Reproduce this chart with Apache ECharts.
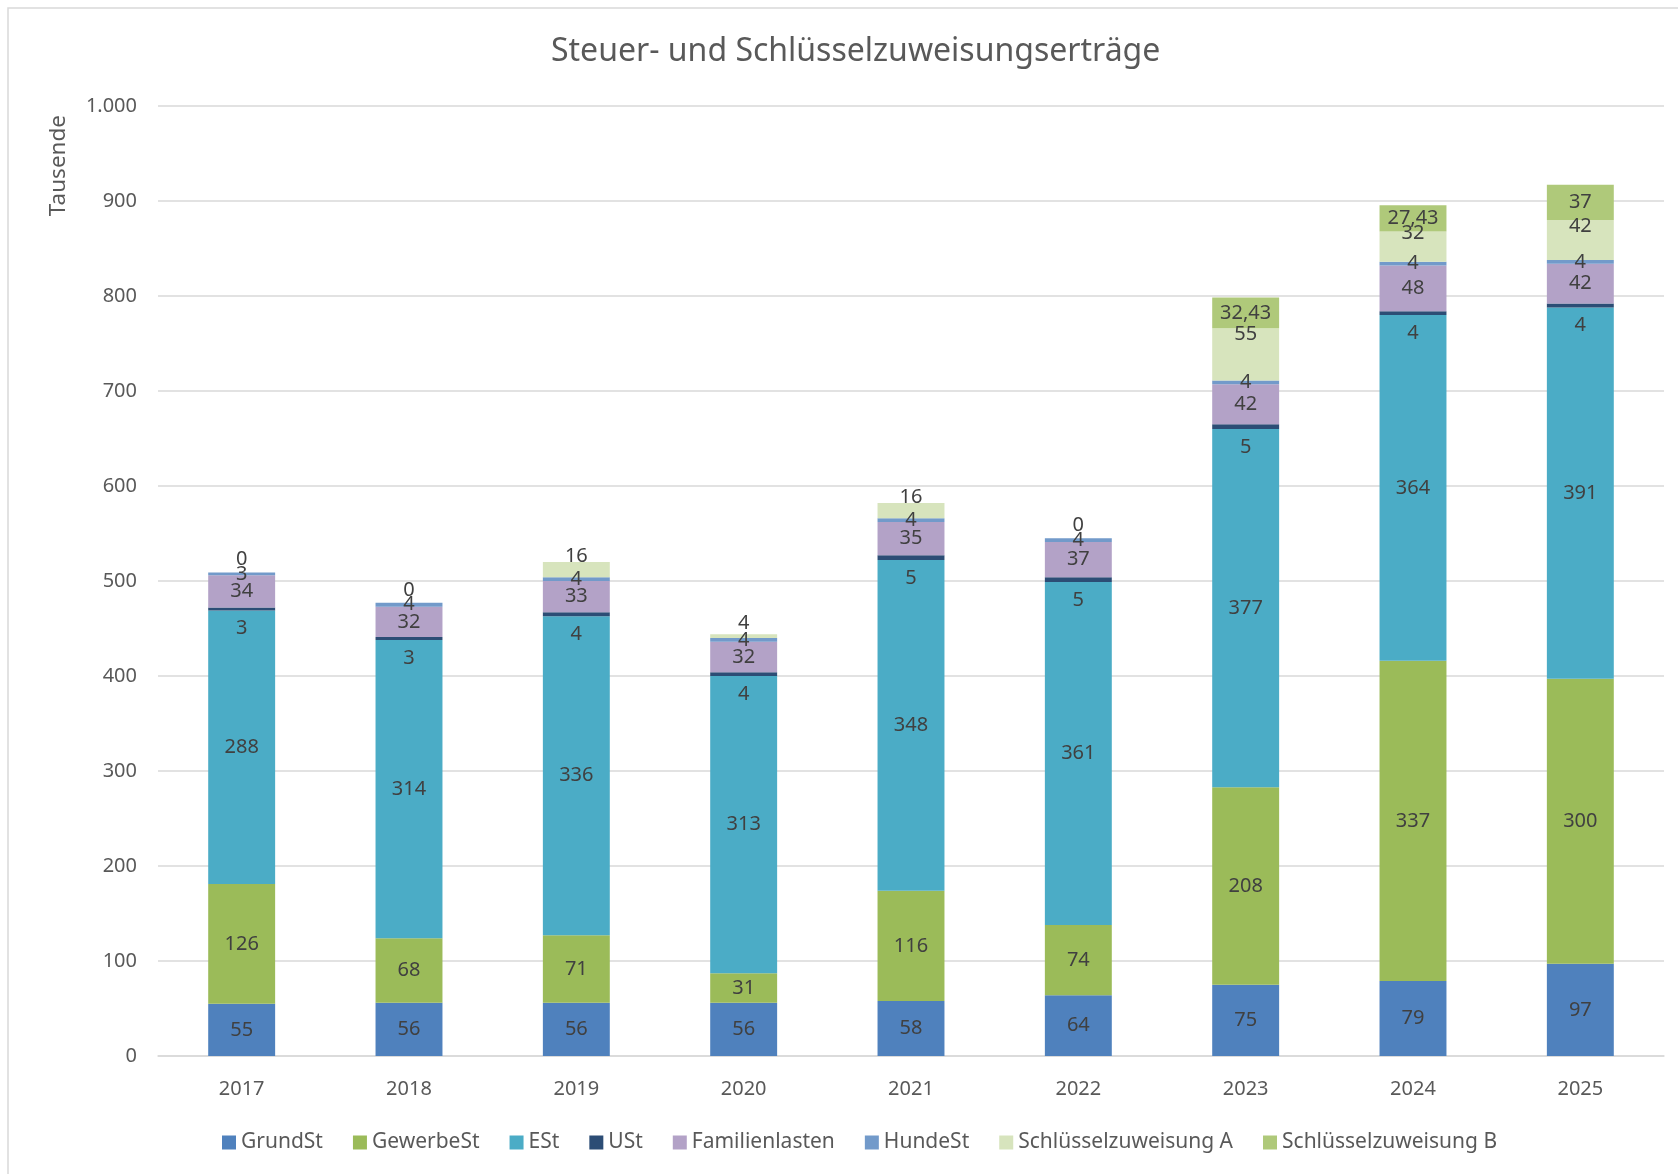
<!DOCTYPE html>
<html>
<head>
<meta charset="utf-8">
<script src="https://cdn.jsdelivr.net/npm/echarts@6/dist/echarts.min.js"></script>
<style>
  html, body { margin: 0; padding: 0; background: #fff; }
  #main { width: 1678px; height: 1174px; }
</style>
</head>
<body>
<div id="main"></div>
<script>
// Jahre und Werte (in Tausend)
var years = ['2017', '2018', '2019', '2020', '2021', '2022', '2023', '2024', '2025'];
var grundSt = [55, 56, 56, 56, 58, 64, 75, 79, 97];
var gewerbeSt = [126, 68, 71, 31, 116, 74, 208, 337, 300];
var eSt = [288, 314, 336, 313, 348, 361, 377, 364, 391];
var uSt = [3, 3, 4, 4, 5, 5, 5, 4, 4];
var familienlasten = [34, 32, 33, 32, 35, 37, 42, 48, 42];
var hundeSt = [3, 4, 4, 4, 4, 4, 4, 4, 4];
var schluesselA = [0, 0, 16, 4, 16, 0, 55, 32, 42];
var schluesselB = [null, null, null, null, null, null, 32.43, 27.43, 37];
var yTicks = [0, 100, 200, 300, 400, 500, 600, 700, 800, 900, 1000];

var FONT = '"Noto Sans", sans-serif';

function fmtDe(v) {
    var s = String(v).replace('.', ',');
    return s;
}

function thousands(v) {
    return String(v).replace(/\B(?=(\d{3})+(?!\d))/g, '.');
}

var labelBase = {
    show: true,
    color: '#404040',
    fontSize: 20,
    fontFamily: FONT,
    formatter: function (p) { return fmtDe(p.value); }
};

function bar(name, color, data, label) {
    return {
        name: name,
        type: 'bar',
        stack: 'total',
        barWidth: '40%',
        itemStyle: { color: color },
        label: Object.assign({}, labelBase, label || { position: 'inside' }),
        data: data
    };
}

// Schlüsselzuweisung A: Beschriftung am oberen Ende, kleine Werte darüber
var schlAData = schluesselA.map(function (v) {
    return {
        value: v,
        label: { position: 'top', distance: Math.max(-16, 3 - 0.47 * v) }
    };
});

var chart = echarts.init(document.getElementById('main'));
var option = {
    animation: false,
    backgroundColor: '#fff',
    textStyle: { fontFamily: FONT },
    title: {
        text: 'Steuer- und Schlüsselzuweisungserträge',
        left: 546,
        top: 31,
        textStyle: { fontSize: 32, fontWeight: 'normal', color: '#595959', fontFamily: FONT }
    },
    graphic: [
        {
            type: 'rect',
            shape: { x: 8, y: 8, width: 1720, height: 1220 },
            style: { fill: 'none', stroke: '#d9d9d9', lineWidth: 1.5 },
            silent: true
        },
        {
            type: 'text',
            left: 47,
            top: 115,
            rotation: Math.PI / 2,
            style: { text: 'Tausende', fontSize: 22.5, fill: '#595959', fontFamily: FONT }
        }
    ],
    legend: {
        bottom: 16,
        left: 217,
        icon: 'rect',
        itemWidth: 14,
        itemHeight: 14,
        itemGap: 30,
        textStyle: { fontSize: 21, color: '#595959', fontFamily: FONT }
    },
    grid: { left: 158, right: 14, top: 106, bottom: 118 },
    xAxis: {
        type: 'category',
        data: years,
        axisLine: { lineStyle: { color: '#d9d9d9', width: 1.5 } },
        axisTick: { show: false },
        axisLabel: { fontSize: 20, color: '#595959', margin: 23, fontFamily: FONT }
    },
    yAxis: {
        type: 'value',
        min: yTicks[0],
        max: yTicks[yTicks.length - 1],
        interval: yTicks[1] - yTicks[0],
        axisLine: { show: false },
        axisTick: { show: false },
        splitLine: { lineStyle: { color: '#d9d9d9', width: 1.5 } },
        axisLabel: {
            fontSize: 20, color: '#595959', margin: 21, fontFamily: FONT,
            formatter: function (v) { return thousands(v); }
        }
    },
    series: [
        bar('GrundSt', '#4f81bd', grundSt),
        bar('GewerbeSt', '#9bbb59', gewerbeSt),
        bar('ESt', '#4bacc6', eSt),
        bar('USt', '#2c4d75', uSt, { position: 'bottom', distance: 8 }),
        bar('Familienlasten', '#b3a2c7', familienlasten),
        bar('HundeSt', '#729aca', hundeSt),
        bar('Schlüsselzuweisung A', '#d7e4bd', schlAData, { position: 'top' }),
        bar('Schlüsselzuweisung B', '#afc97a', schluesselB)
    ]
};
chart.setOption(option);
</script>
</body>
</html>
